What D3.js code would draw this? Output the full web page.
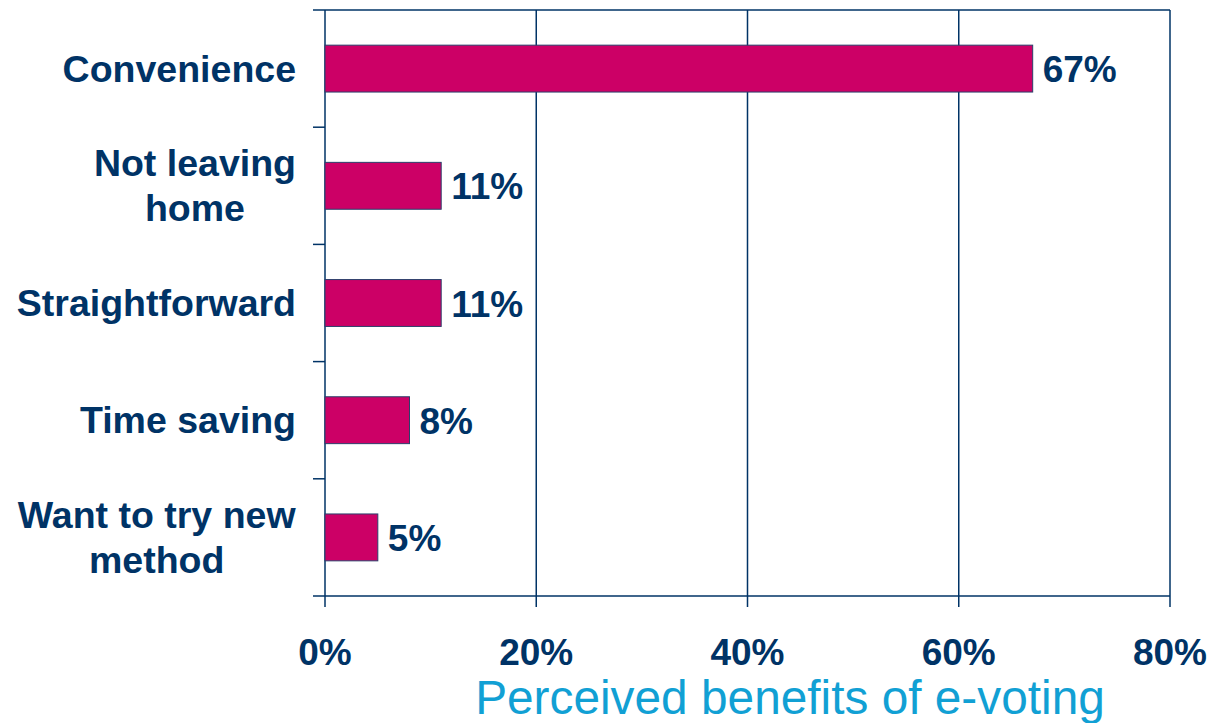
<!DOCTYPE html>
<html>
<head>
<meta charset="utf-8">
<script src="https://cdn.jsdelivr.net/npm/d3@7"></script>
<style>
  html, body { margin: 0; padding: 0; background: #ffffff; }
  svg { display: block; }
</style>
</head>
<body>
<svg id="chart" width="1226" height="723"></svg>
<script>
const categories = [["Convenience"], ["Not leaving", "home"], ["Straightforward"], ["Time saving"], ["Want to try new", "method"]];
const values = [67, 11, 11, 8, 5];
const xTicks = [0, 20, 40, 60, 80];
const xTickLabels = ["0%", "20%", "40%", "60%", "80%"];
const title = "Perceived benefits of e-voting";

const navy = "#003366";
const barColor = "#CC0066";
const titleColor = "#11A0D4";
const font = "'Liberation Sans', Arial, sans-serif";

const svg = d3.select("#chart");
const pLeft = 325, pRight = 1170, pTop = 10, pBottom = 596;

const x = d3.scaleLinear().domain([0, 80]).range([pLeft, pRight]);
const y = d3.scaleBand().domain(d3.range(categories.length)).range([pTop, pBottom]).paddingInner(0.6).paddingOuter(0.3);
const yb = d3.scaleBand().domain(d3.range(categories.length)).range([pTop, pBottom]);

// vertical gridlines (with ticks below)
svg.append("g").selectAll("line").data(xTicks).join("line")
  .attr("x1", d => x(d)).attr("x2", d => x(d))
  .attr("y1", pTop).attr("y2", pBottom + 11)
  .attr("stroke", navy).attr("stroke-width", 1.5);

// horizontal band-boundary ticks on left axis + top/bottom border
const bounds = d3.range(categories.length + 1).map(i => i < categories.length ? yb(i) : pBottom);
svg.append("g").selectAll("line").data(bounds).join("line")
  .attr("x1", pLeft - 12)
  .attr("x2", (d, i) => (i === 0 || i === bounds.length - 1) ? pRight : pLeft)
  .attr("y1", d => d).attr("y2", d => d)
  .attr("stroke", navy).attr("stroke-width", 1.5);

// bars
svg.append("g").selectAll("rect").data(values).join("rect")
  .attr("x", x(0))
  .attr("y", (d, i) => y(i))
  .attr("width", d => x(d) - x(0))
  .attr("height", y.bandwidth())
  .attr("fill", barColor)
  .attr("stroke", "#2B3F6B").attr("stroke-width", 1);

// value labels
svg.append("g").selectAll("text").data(values).join("text")
  .attr("x", d => x(d) + 10)
  .attr("y", (d, i) => y(i) + y.bandwidth() / 2 + 13.5)
  .attr("font-family", font).attr("font-weight", "bold").attr("font-size", 37)
  .attr("fill", navy)
  .text(d => d + "%");

// category labels
const labelG = svg.append("g");
categories.forEach((lines, i) => {
  const cy = yb(i) + yb.bandwidth() / 2;
  const lh = 45;
  const t = labelG.append("text")
    .attr("font-family", font).attr("font-weight", "bold").attr("font-size", 37.5)
    .attr("fill", navy).attr("text-anchor", "middle");
  lines.forEach((ln, j) => {
    t.append("tspan").attr("x", 0).attr("y", cy - (lines.length - 1) * lh / 2 + j * lh + 13).text(ln);
  });
  const w = t.node().getBBox().width;
  t.selectAll("tspan").attr("x", 296 - w / 2);
});

// x tick labels
svg.append("g").selectAll("text").data(xTicks).join("text")
  .attr("x", d => x(d)).attr("y", 665)
  .attr("text-anchor", "middle")
  .attr("font-family", font).attr("font-weight", "bold").attr("font-size", 37)
  .attr("fill", navy)
  .text((d, i) => xTickLabels[i]);

// title
svg.append("text")
  .attr("x", 790).attr("y", 714)
  .attr("text-anchor", "middle")
  .attr("font-family", font).attr("font-size", 47.8)
  .attr("fill", titleColor)
  .text(title);
</script>
</body>
</html>
